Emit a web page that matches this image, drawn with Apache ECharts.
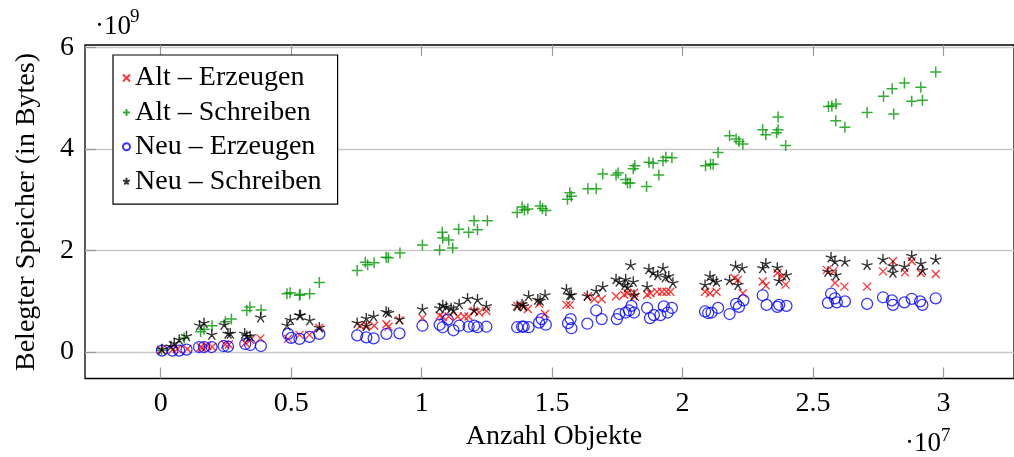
<!DOCTYPE html>
<html>
<head>
<meta charset="utf-8">
<script src="https://cdn.jsdelivr.net/npm/echarts@6/dist/echarts.min.js"></script>
<style>html,body{margin:0;padding:0;background:#fff;}#c{width:1014px;height:457px;}</style>
</head>
<body>
<div id="c"></div>
<script>
// x in units of 10^7 objects, y in units of 10^9 bytes
const seriesNames = ['Alt – Erzeugen', 'Alt – Schreiben', 'Neu – Erzeugen', 'Neu – Schreiben'];
const xTickValues = [0, 0.5, 1, 1.5, 2, 2.5, 3];
const xTickLabels = ['0', '0.5', '1', '1.5', '2', '2.5', '3'];
const yTickValues = [0, 2, 4, 6];
const yTickLabels = ['0', '2', '4', '6'];

const altErzeugen = [
[0.002,0.045],[0.045,0.045],[0.064,0.06],[0.102,0.06],[0.153,0.10],[0.159,0.08],[0.178,0.12],[0.197,0.10],
[0.247,0.15],[0.261,0.15],[0.324,0.18],[0.343,0.24],[0.382,0.27],[0.488,0.26],[0.532,0.34],[0.570,0.34],
[0.608,0.48],[0.765,0.52],[0.788,0.53],[0.818,0.52],[0.865,0.55],[0.873,0.50],[0.915,0.63],[1.003,0.67],
[1.069,0.72],[1.081,0.69],[1.104,0.70],[1.138,0.70],[1.163,0.70],[1.180,0.70],[1.201,0.81],[1.220,0.78],
[1.248,0.81],[1.366,0.91],[1.385,0.91],[1.407,0.85],[1.450,0.95],[1.473,0.75],[1.555,0.93],[1.568,0.93],
[1.637,1.10],[1.662,1.04],[1.690,1.04],[1.745,1.10],[1.776,1.13],[1.789,1.16],[1.814,1.17],[1.817,1.09],
[1.864,1.13],[1.877,1.16],[1.902,1.19],[1.921,1.19],[1.938,1.19],[1.953,1.19],[2.086,1.19],[2.105,1.16],
[2.130,1.19],[2.199,1.46],[2.212,1.42],[2.231,1.16],[2.307,1.39],[2.319,1.31],[2.363,1.56],[2.382,1.49],
[2.395,1.33],[2.553,1.62],[2.578,1.59],[2.584,1.36],[2.620,1.29],[2.707,1.29],[2.768,1.59],[2.806,1.79],
[2.852,1.57],[2.878,1.79],[2.913,1.56],[2.970,1.54]
];

const altSchreiben = [
[0.003,0.035],[0.090,0.28],[0.153,0.40],[0.166,0.45],[0.197,0.52],[0.248,0.60],[0.271,0.65],[0.330,0.82],
[0.342,0.89],[0.385,0.83],[0.484,1.15],[0.496,1.17],[0.532,1.12],[0.534,1.14],[0.571,1.15],[0.608,1.37],
[0.753,1.61],[0.784,1.77],[0.793,1.72],[0.818,1.76],[0.864,1.87],[0.872,1.86],[0.917,1.95],[1.003,2.11],
[1.069,2.01],[1.079,2.36],[1.081,2.25],[1.104,2.21],[1.119,2.05],[1.142,2.42],[1.180,2.36],[1.201,2.59],
[1.214,2.41],[1.252,2.59],[1.366,2.75],[1.385,2.86],[1.394,2.80],[1.407,2.82],[1.454,2.88],[1.463,2.83],
[1.476,2.79],[1.559,3.01],[1.568,3.14],[1.574,3.07],[1.637,3.22],[1.669,3.22],[1.694,3.51],[1.745,3.49],
[1.753,3.53],[1.782,3.40],[1.789,3.33],[1.799,3.33],[1.811,3.61],[1.817,3.67],[1.862,3.26],[1.871,3.74],
[1.887,3.72],[1.909,3.49],[1.925,3.77],[1.936,3.84],[1.959,3.83],[2.088,3.67],[2.107,3.70],[2.117,3.70],
[2.136,3.93],[2.180,4.26],[2.205,4.20],[2.216,4.15],[2.231,4.10],[2.307,4.38],[2.319,4.28],[2.360,4.32],
[2.366,4.38],[2.366,4.63],[2.395,4.07],[2.559,4.84],[2.572,4.85],[2.588,4.89],[2.587,4.56],[2.622,4.43],
[2.707,4.72],[2.770,5.04],[2.803,5.19],[2.809,4.69],[2.850,5.30],[2.878,4.94],[2.913,5.22],[2.919,4.96],
[2.970,5.52]
];

const neuErzeugen = [
[0.005,0.03],[0.045,0.03],[0.071,0.03],[0.099,0.05],[0.147,0.10],[0.166,0.10],[0.195,0.10],[0.241,0.12],
[0.258,0.11],[0.324,0.16],[0.343,0.14],[0.384,0.12],[0.488,0.36],[0.500,0.28],[0.532,0.26],[0.570,0.30],
[0.608,0.36],[0.753,0.33],[0.788,0.29],[0.816,0.27],[0.865,0.36],[0.915,0.37],[1.003,0.52],[1.069,0.54],
[1.081,0.49],[1.100,0.64],[1.122,0.43],[1.144,0.52],[1.180,0.50],[1.201,0.52],[1.214,0.49],[1.248,0.50],
[1.366,0.49],[1.385,0.50],[1.391,0.50],[1.410,0.49],[1.450,0.58],[1.460,0.65],[1.476,0.54],[1.561,0.57],
[1.571,0.65],[1.574,0.47],[1.635,0.56],[1.669,0.82],[1.690,0.65],[1.748,0.65],[1.757,0.75],[1.782,0.78],
[1.795,0.82],[1.804,0.91],[1.814,0.78],[1.864,0.87],[1.875,0.67],[1.890,0.73],[1.915,0.73],[1.928,0.90],
[1.943,0.78],[1.959,0.87],[2.086,0.80],[2.098,0.77],[2.111,0.78],[2.136,0.87],[2.180,0.75],[2.205,0.95],
[2.216,0.89],[2.233,1.02],[2.307,1.12],[2.322,0.93],[2.363,0.89],[2.370,0.93],[2.398,0.91],[2.557,0.97],
[2.569,1.15],[2.584,1.06],[2.591,0.98],[2.622,1.00],[2.707,0.95],[2.768,1.08],[2.802,1.02],[2.806,0.93],
[2.850,0.98],[2.878,1.05],[2.910,1.00],[2.919,0.93],[2.970,1.06]
];

const neuSchreiben = [
[0.005,0.06],[0.039,0.12],[0.052,0.18],[0.071,0.25],[0.099,0.32],[0.149,0.53],[0.166,0.58],[0.196,0.35],
[0.243,0.54],[0.258,0.37],[0.267,0.37],[0.322,0.37],[0.330,0.32],[0.343,0.32],[0.383,0.69],[0.484,0.53],
[0.497,0.64],[0.532,0.73],[0.536,0.73],[0.571,0.63],[0.608,0.49],[0.753,0.58],[0.788,0.67],[0.788,0.52],
[0.816,0.71],[0.864,0.80],[0.873,0.78],[0.915,0.65],[1.003,0.85],[1.069,0.87],[1.081,0.93],[1.094,0.90],
[1.113,0.87],[1.122,0.83],[1.144,0.95],[1.176,1.06],[1.201,0.83],[1.214,1.04],[1.248,0.91],[1.366,0.91],
[1.385,0.95],[1.391,0.91],[1.410,1.11],[1.445,1.04],[1.454,1.02],[1.473,1.13],[1.555,1.24],[1.568,1.13],
[1.574,1.13],[1.635,1.11],[1.669,1.21],[1.694,1.29],[1.745,1.44],[1.757,1.39],[1.779,1.33],[1.782,1.44],
[1.789,1.28],[1.801,1.72],[1.811,1.39],[1.814,1.13],[1.864,1.29],[1.871,1.64],[1.887,1.57],[1.905,1.52],
[1.925,1.66],[1.934,1.48],[1.947,1.50],[1.963,1.37],[2.086,1.33],[2.105,1.50],[2.117,1.42],[2.130,1.39],
[2.180,1.42],[2.203,1.70],[2.212,1.33],[2.228,1.66],[2.307,1.66],[2.319,1.75],[2.363,1.67],[2.370,1.41],
[2.398,1.52],[2.557,1.59],[2.569,1.87],[2.584,1.79],[2.588,1.52],[2.622,1.79],[2.707,1.72],[2.768,1.83],
[2.806,1.70],[2.806,1.57],[2.850,1.69],[2.878,1.90],[2.913,1.75],[2.919,1.62],[2.970,1.83]
];

const FONT = 'Liberation Serif';
const FS = 28;
const crossPath = 'path://M0,0L1,1M1,0L0,1';
const plusPath = 'path://M0.5,0L0.5,1M0,0.5L1,0.5';
const starPath = 'path://M0.5,0.5L0.5,0M0.5,0.5L0.9755,0.3455M0.5,0.5L0.794,0.9045M0.5,0.5L0.206,0.9045M0.5,0.5L0.0245,0.3455';
const clear = 'rgba(0,0,0,0)';
const tickStyle = {color: '#999', width: 1.2};

const chart = echarts.init(document.getElementById('c'), null, {renderer: 'canvas'});

function mkSeries(name, data, symbol, size, color, bw) {
  return {
    name: name, type: 'scatter', data: data, symbol: symbol, symbolSize: size,
    itemStyle: {color: clear, borderColor: color, borderWidth: bw},
    emphasis: {disabled: true}
  };
}

const xLabelMap = {}; xTickValues.forEach((v, i) => xLabelMap[v] = xTickLabels[i]);
const yLabelMap = {}; yTickValues.forEach((v, i) => yLabelMap[v] = yTickLabels[i]);

chart.setOption({
  animation: false,
  backgroundColor: '#fff',
  grid: {left: 85, top: 45, right: -10, bottom: 78.5, show: true, borderColor: '#000', borderWidth: 1.3, backgroundColor: clear},
  xAxis: [{
    type: 'value', position: 'bottom', min: -0.29, max: 3.27,
    axisLine: {show: false, onZero: false},
    axisTick: {show: true, inside: true, length: 11, customValues: xTickValues, lineStyle: tickStyle},
    axisLabel: {show: true, customValues: xTickValues, margin: 11, formatter: v => xLabelMap[v] !== undefined ? xLabelMap[v] : '', fontFamily: FONT, fontSize: FS, color: '#000'},
    splitLine: {show: false}
  }, {
    type: 'value', position: 'top', min: -0.29, max: 3.27,
    axisLine: {show: false, onZero: false},
    axisTick: {show: true, inside: true, length: 11, customValues: xTickValues, lineStyle: tickStyle},
    axisLabel: {show: false},
    splitLine: {show: false}
  }],
  yAxis: [{
    type: 'value', position: 'left', min: -0.52, max: 6.05,
    axisLine: {show: false, onZero: false},
    axisTick: {show: true, inside: true, length: 11, customValues: yTickValues, lineStyle: tickStyle},
    axisLabel: {show: true, customValues: yTickValues, margin: 11, formatter: v => yLabelMap[v] !== undefined ? yLabelMap[v] : '', fontFamily: FONT, fontSize: FS, color: '#000'},
    splitLine: {show: true, lineStyle: {color: '#c8c8c8', width: 1.3}}
  }],
  legend: {
    orient: 'vertical', left: 113, top: 55,
    padding: [9, 16, 9, 9], itemGap: 6.4, itemWidth: 7, itemHeight: 7,
    backgroundColor: '#fff', borderColor: '#000', borderWidth: 1.2,
    textStyle: {fontFamily: FONT, fontSize: FS, lineHeight: 27, color: '#000'},
    data: seriesNames
  },
  graphic: [
    {type: 'text', x: 27, y: 212, rotation: Math.PI / 2, style: {text: 'Belegter Speicher (in Bytes)', font: FS + 'px "Liberation Serif"', fill: '#000', align: 'center', verticalAlign: 'middle'}},
    {type: 'text', x: 554, y: 437, style: {text: 'Anzahl Objekte', font: FS + 'px "Liberation Serif"', fill: '#000', align: 'center', verticalAlign: 'middle'}},
    {type: 'text', x: 95, y: 27, style: {text: '·10', font: '27px "Liberation Serif"', fill: '#000', align: 'left', verticalAlign: 'middle'}},
    {type: 'text', x: 130, y: 17, style: {text: '9', font: '19px "Liberation Serif"', fill: '#000', align: 'left', verticalAlign: 'middle'}},
    {type: 'text', x: 905, y: 444, style: {text: '·10', font: '27px "Liberation Serif"', fill: '#000', align: 'left', verticalAlign: 'middle'}},
    {type: 'text', x: 941, y: 436, style: {text: '7', font: '19px "Liberation Serif"', fill: '#000', align: 'left', verticalAlign: 'middle'}}
  ],
  series: [
    mkSeries(seriesNames[0], altErzeugen, crossPath, 8, '#ff0000', 1.3),
    mkSeries(seriesNames[1], altSchreiben, plusPath, 11, '#009900', 1.5),
    mkSeries(seriesNames[2], neuErzeugen, 'circle', 11, '#0000ff', 1.25),
    mkSeries(seriesNames[3], neuSchreiben, starPath, [11, 10.4], '#000000', 1.35)
  ]
});
</script>
</body>
</html>
